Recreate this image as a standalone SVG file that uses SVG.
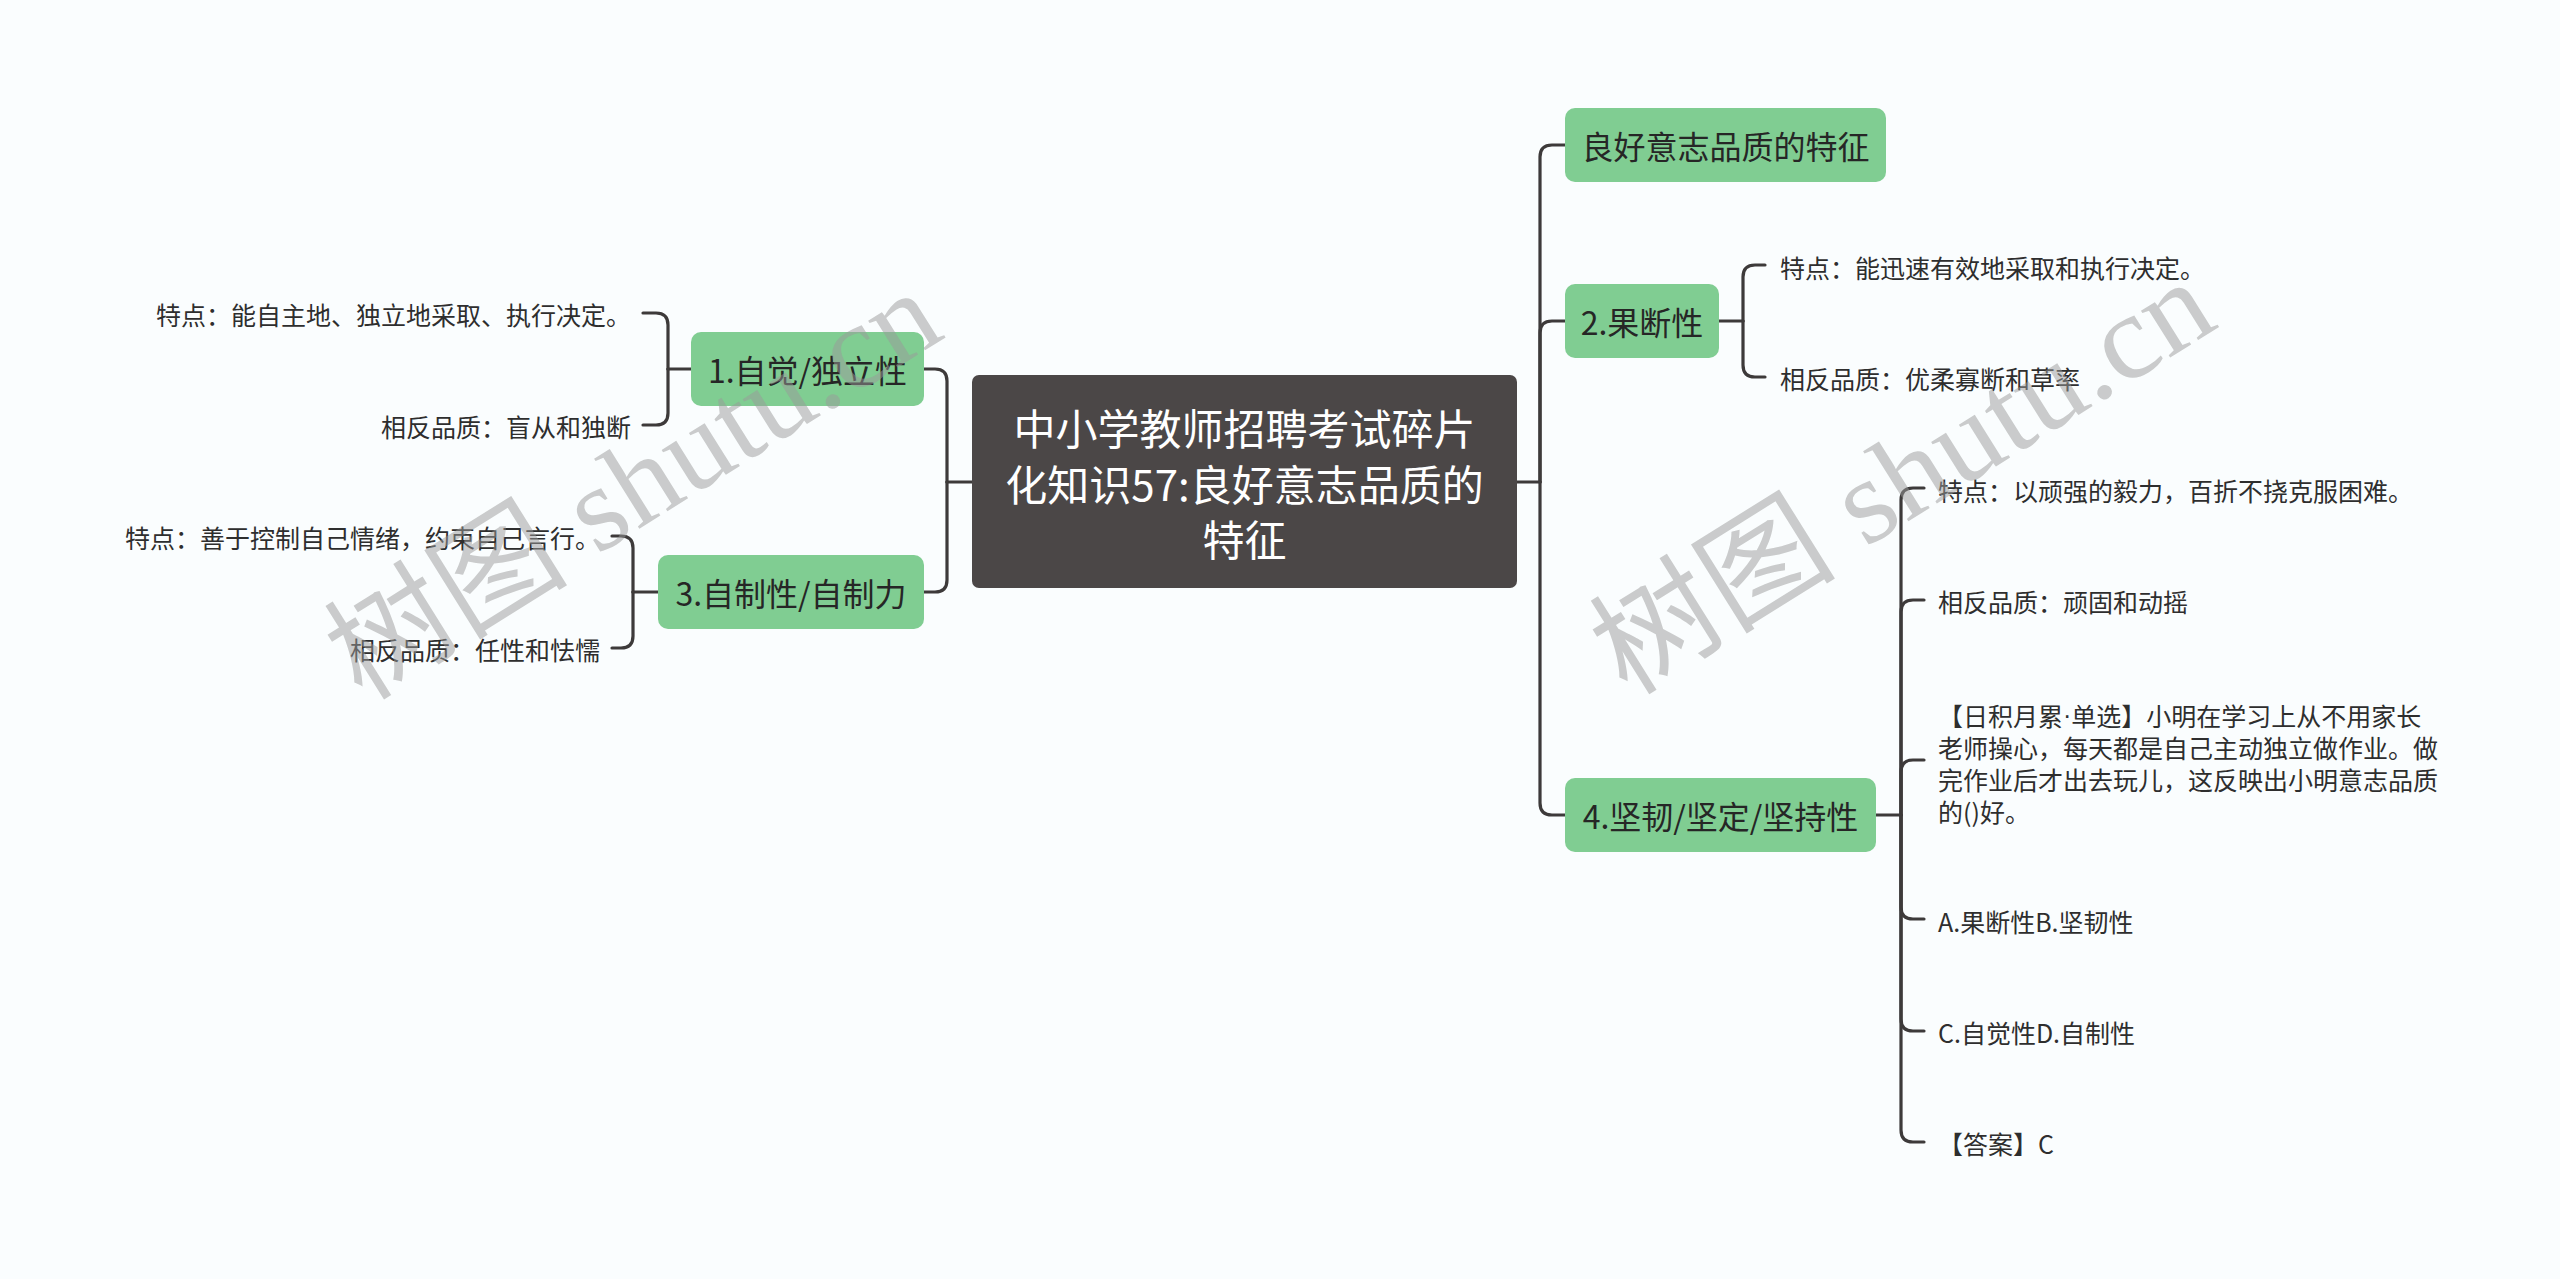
<svg xmlns="http://www.w3.org/2000/svg" width="2560" height="1279" viewBox="0 0 2560 1279">
<style>
.bg{fill:#fafdfe}
.root rect{fill:#4b4747}
.root text{fill:#ffffff;font-size:42px}
.main rect{fill:#80cd92}
.main text{fill:#262626;font-size:32px}
text{font-family:"Noto Sans CJK SC","Noto Sans",sans-serif;dominant-baseline:central}
.leaf{fill:#2e2e2e;font-size:25px}
.lat{font-family:"Liberation Sans",sans-serif}
.conn path{fill:none;stroke:#3d3a3a;stroke-width:3.2;stroke-linecap:round}
.wm{font-family:"Liberation Serif","Noto Sans CJK SC",serif;font-size:120px;fill:#9a9a9a;fill-opacity:0.5;dominant-baseline:alphabetic}
</style>
<rect class="bg" x="0" y="0" width="2560" height="1279"/>
<g id="connectors" class="conn">
<path d="M972,482 H947"/>
<path d="M947,482 V381 Q947,369 935,369 H924"/>
<path d="M947,482 V580 Q947,592 935,592 H924"/>
<path d="M691,369 H668"/>
<path d="M668,369 V325 Q668,313 656,313 H643"/>
<path d="M668,369 V413 Q668,425 656,425 H643"/>
<path d="M658,592 H633"/>
<path d="M633,592 V548 Q633,536 621,536 H612"/>
<path d="M633,592 V636 Q633,648 621,648 H612"/>
<path d="M1517,482 H1540"/>
<path d="M1540,482 V157 Q1540,145 1552,145 H1565"/>
<path d="M1540,482 V333 Q1540,321 1552,321 H1565"/>
<path d="M1540,482 V803 Q1540,815 1552,815 H1565"/>
<path d="M1719,321 H1743"/>
<path d="M1743,321 V277 Q1743,265 1755,265 H1765"/>
<path d="M1743,321 V365 Q1743,377 1755,377 H1765"/>
<path d="M1876,815 H1901"/>
<path d="M1901,815 V500 Q1901,488 1913,488 H1924"/>
<path d="M1901,815 V612 Q1901,600 1913,600 H1924"/>
<path d="M1901,815 V772 Q1901,760 1913,760 H1924"/>
<path d="M1901,815 V907 Q1901,919 1913,919 H1924"/>
<path d="M1901,815 V1019 Q1901,1031 1913,1031 H1924"/>
<path d="M1901,815 V1130 Q1901,1142 1913,1142 H1924"/>
</g>
<g id="root" class="root">
<rect x="972" y="375" width="545" height="213" rx="7"/>
<text x="1244.5" y="426" text-anchor="middle">中小学教师招聘考试碎片</text>
<text x="1244.5" y="482" text-anchor="middle">化知识57:良好意志品质的</text>
<text x="1244.5" y="537" text-anchor="middle">特征</text>
</g>
<g id="n1" class="main">
<rect x="691" y="332" width="233" height="74" rx="10"/>
<text x="807.5" y="369" text-anchor="middle">1.自觉/独立性</text>
</g>
<g id="n1a"><text class="leaf" x="631" y="314" text-anchor="end">特点：能自主地、独立地采取、执行决定。</text></g>
<g id="n1b"><text class="leaf" x="631" y="426" text-anchor="end">相反品质：盲从和独断</text></g>
<g id="n3" class="main">
<rect x="658" y="555" width="266" height="74" rx="10"/>
<text x="791" y="592" text-anchor="middle">3.自制性/自制力</text>
</g>
<g id="n3a"><text class="leaf" x="600" y="537" text-anchor="end">特点：善于控制自己情绪，约束自己言行。</text></g>
<g id="n3b"><text class="leaf" x="600" y="649" text-anchor="end">相反品质：任性和怯懦</text></g>
<g id="n0" class="main">
<rect x="1565" y="108" width="321" height="74" rx="10"/>
<text x="1725.5" y="145" text-anchor="middle">良好意志品质的特征</text>
</g>
<g id="n2" class="main">
<rect x="1565" y="284" width="154" height="74" rx="10"/>
<text x="1642" y="321" text-anchor="middle">2.果断性</text>
</g>
<g id="n2a"><text class="leaf" x="1780" y="267">特点：能迅速有效地采取和执行决定。</text></g>
<g id="n2b"><text class="leaf" x="1780" y="378">相反品质：优柔寡断和草率</text></g>
<g id="n4" class="main">
<rect x="1565" y="778" width="311" height="74" rx="10"/>
<text x="1720.5" y="815" text-anchor="middle">4.坚韧/坚定/坚持性</text>
</g>
<g id="n4a"><text class="leaf" x="1938" y="490">特点：以顽强的毅力，百折不挠克服困难。</text></g>
<g id="n4b"><text class="leaf" x="1938" y="601">相反品质：顽固和动摇</text></g>
<g id="n4c">
<text class="leaf" x="1938" y="715">【日积月累<tspan class="lat">·</tspan>单选】小明在学习上从不用家长</text>
<text class="leaf" x="1938" y="747">老师操心，每天都是自己主动独立做作业。做</text>
<text class="leaf" x="1938" y="779">完作业后才出去玩儿，这反映出小明意志品质</text>
<text class="leaf" x="1938" y="811">的()好。</text>
</g>
<g id="n4d"><text class="leaf" x="1938" y="921">A.果断性B.坚韧性</text></g>
<g id="n4e"><text class="leaf" x="1938" y="1032">C.自觉性D.自制性</text></g>
<g id="n4f"><text class="leaf" x="1938" y="1143">【答案】C</text></g>
<g id="watermark">
<text class="wm" transform="translate(362,702) rotate(-32)" textLength="690" lengthAdjust="spacingAndGlyphs">树图 shutu.cn</text>
<text class="wm" transform="translate(1627,697) rotate(-32)" textLength="700" lengthAdjust="spacingAndGlyphs">树图 shutu.cn</text>
</g>
</svg>
